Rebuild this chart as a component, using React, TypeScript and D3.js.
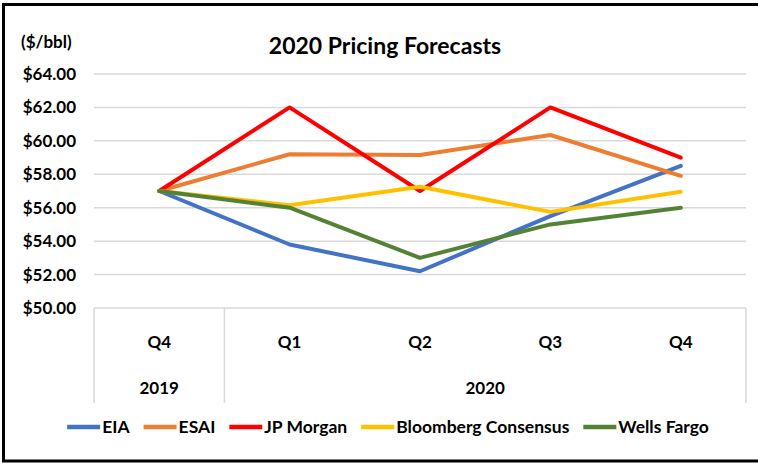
import React, { useEffect, useRef } from "react";
import * as d3 from "d3";

const quarters = ["Q4", "Q1", "Q2", "Q3", "Q4"];
const years = [
  { label: "2019", start: 0, end: 1 },
  { label: "2020", start: 1, end: 5 },
];
const yTicks = [50, 52, 54, 56, 58, 60, 62, 64];

const seriesNames = ["EIA", "ESAI", "JP Morgan", "Bloomberg Consensus", "Wells Fargo"];
const seriesColors = ["#4472C4", "#ED7D31", "#FF0000", "#FFC000", "#548235"];
const eia = [57.0, 53.8, 52.2, 55.5, 58.5];
const esai = [57.0, 59.2, 59.15, 60.35, 57.9];
const jpMorgan = [57.0, 62.0, 57.0, 62.0, 59.0];
const bloomberg = [57.0, 56.15, 57.25, 55.75, 56.95];
const wellsFargo = [57.0, 56.0, 53.0, 55.0, 56.0];
const seriesValues = [eia, esai, jpMorgan, bloomberg, wellsFargo];

const W = 758;
const H = 463;
const FONT = "Lato, 'Noto Sans', sans-serif";

export default function App() {
  const ref = useRef<SVGSVGElement>(null);

  useEffect(() => {
    const svg = d3.select(ref.current);
    svg.selectAll("*").remove();

    const left = 94, right = 746, top = 74, bottom = 308;
    const axisBottom = 403;

    svg.append("rect").attr("width", W).attr("height", H).attr("fill", "#fff");

    // outer frame
    svg.append("path")
      .attr("d", `M${W + 5},4.5 L3.5,4.5 L3.5,461 L${W + 5},461`)
      .attr("fill", "none").attr("stroke", "#000").attr("stroke-width", 3);

    const x = d3.scaleBand<number>().domain(d3.range(quarters.length)).range([left, right]);
    const y = d3.scaleLinear().domain([50, 64]).range([bottom, top]);

    // gridlines
    svg.append("g").selectAll("line").data(yTicks.slice(1)).join("line")
      .attr("x1", left).attr("x2", right)
      .attr("y1", (d) => y(d)).attr("y2", (d) => y(d))
      .attr("stroke", "#d9d9d9").attr("stroke-width", 1.5);

    // y tick labels
    svg.append("g").selectAll("text").data(yTicks).join("text")
      .attr("x", 76).attr("y", (d) => y(d) + 6)
      .attr("text-anchor", "end")
      .attr("font-family", FONT).attr("font-weight", 700).attr("font-size", 17)
      .attr("fill", "#000")
      .text((d) => "$" + d3.format(".2f")(d));

    // y unit label
    svg.append("text").attr("x", 21).attr("y", 48)
      .attr("font-family", FONT).attr("font-weight", 700).attr("font-size", 17)
      .text("($/bbl)");

    // title
    svg.append("text").attr("x", 385).attr("y", 54).attr("text-anchor", "middle")
      .attr("font-family", FONT).attr("font-weight", 700).attr("font-size", 23)
      .text("2020 Pricing Forecasts");

    // category axis box
    const ax = svg.append("g");
    ax.append("line").attr("x1", left).attr("x2", right).attr("y1", bottom).attr("y2", bottom)
      .attr("stroke", "#d9d9d9").attr("stroke-width", 1.5);
    const seps = [0, ...years.map((yy) => yy.end)];
    ax.selectAll("line.sep").data(seps).join("line").attr("class", "sep")
      .attr("x1", (d) => left + d * x.step()).attr("x2", (d) => left + d * x.step())
      .attr("y1", bottom).attr("y2", axisBottom)
      .attr("stroke", "#d9d9d9").attr("stroke-width", 1.5);
    ax.selectAll("text.q").data(quarters).join("text").attr("class", "q")
      .attr("x", (_, i) => (x(i) as number) + x.bandwidth() / 2).attr("y", 348)
      .attr("text-anchor", "middle")
      .attr("font-family", FONT).attr("font-weight", 700).attr("font-size", 17)
      .text((d) => d);
    ax.selectAll("text.yr").data(years).join("text").attr("class", "yr")
      .attr("x", (d) => left + ((d.start + d.end) / 2) * x.step()).attr("y", 394)
      .attr("text-anchor", "middle")
      .attr("font-family", FONT).attr("font-weight", 700).attr("font-size", 17)
      .text((d) => d.label);

    // lines
    const line = d3.line<number>()
      .x((_, i) => (x(i) as number) + x.bandwidth() / 2)
      .y((d) => y(d));
    svg.append("g").selectAll("path").data(seriesValues).join("path")
      .attr("d", (d) => line(d))
      .attr("fill", "none")
      .attr("stroke", (_, i) => seriesColors[i])
      .attr("stroke-width", 4)
      .attr("stroke-linejoin", "round")
      .attr("stroke-linecap", "round");

    // legend
    const lg = svg.append("g");
    const sw = 33, gap = 2, itemGap = 14;
    const items = seriesNames.map((name, i) => {
      const g = lg.append("g");
      g.append("line").attr("x1", 0).attr("x2", sw).attr("y1", 0).attr("y2", 0)
        .attr("stroke", seriesColors[i]).attr("stroke-width", 4.5);
      const t = g.append("text").attr("x", sw + gap).attr("y", 6)
        .attr("font-family", FONT).attr("font-weight", 700).attr("font-size", 17.5)
        .text(name);
      const w = (t.node() as SVGTextElement).getComputedTextLength();
      return { g, w: sw + gap + w };
    });
    const total = d3.sum(items, (d) => d.w) + itemGap * (items.length - 1);
    let cx = 388 - total / 2;
    items.forEach((it) => {
      it.g.attr("transform", `translate(${cx},427)`);
      cx += it.w + itemGap;
    });
  }, []);

  return (
    <svg ref={ref} width={W} height={H}
      style={{ position: "absolute", left: 0, top: 0, display: "block" }} />
  );
}
